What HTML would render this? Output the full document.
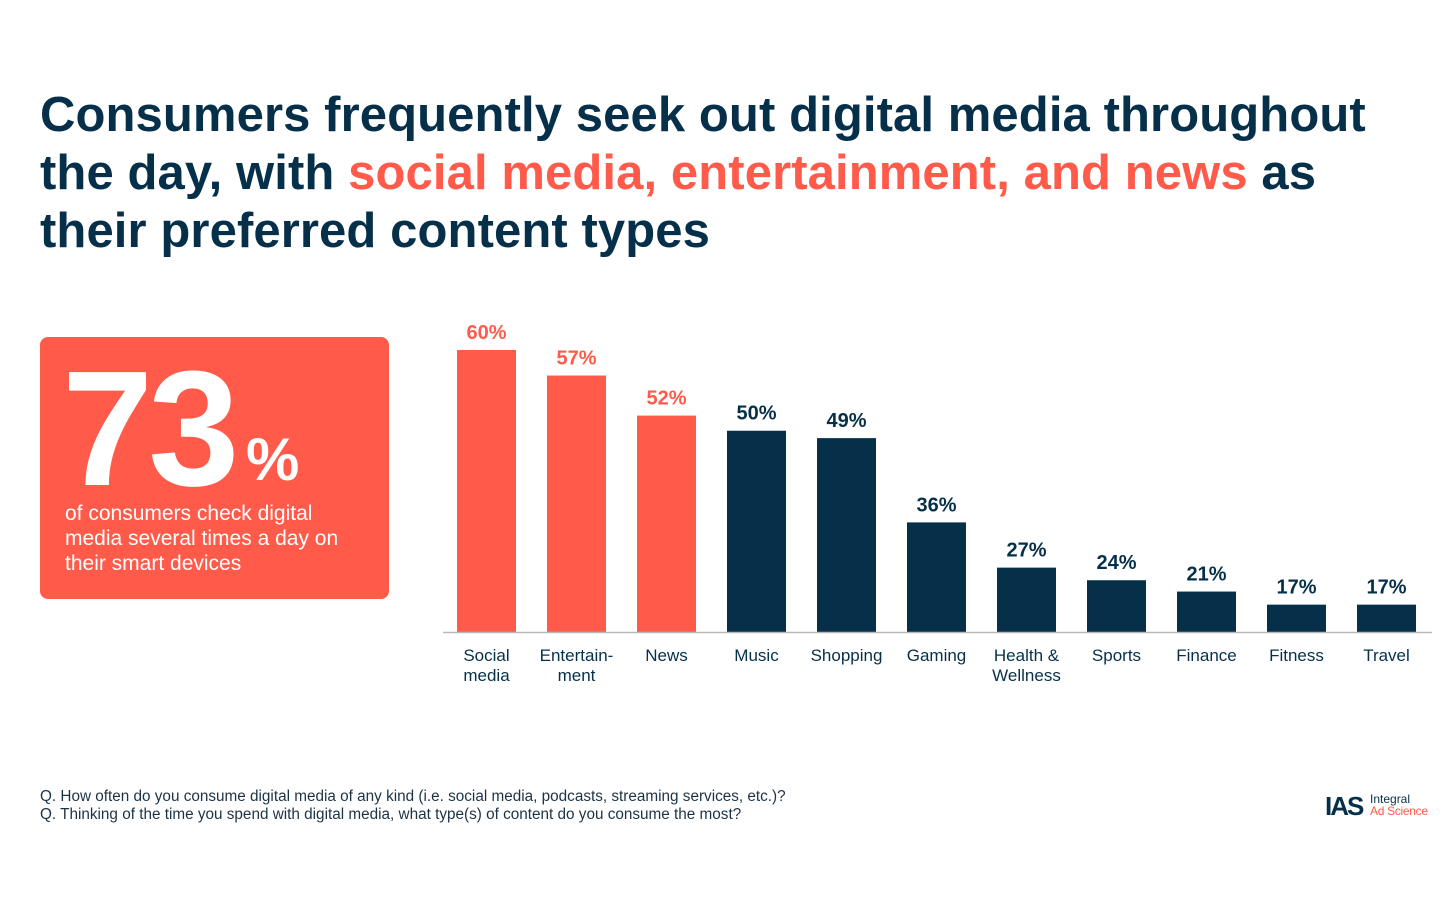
<!DOCTYPE html>
<html><head><meta charset="utf-8"><style>
body{margin:0;width:1454px;height:906px;background:#fff;font-family:"Liberation Sans",sans-serif;position:relative;overflow:hidden}
.title{position:absolute;left:40px;top:86px;font-size:49px;font-weight:bold;line-height:58px;color:#06304a;letter-spacing:0.1px;margin:0}
.title span{color:#ff5a4a}
.card{position:absolute;left:40px;top:337px;width:349px;height:262px;background:#ff5a4a;border-radius:8px;color:#fff}
.big{position:absolute;left:22px;top:12px;font-size:164px;font-weight:bold;letter-spacing:-5px;line-height:160px}
.pct{position:absolute;left:206px;top:88px;font-size:60px;font-weight:bold}
.desc{position:absolute;left:25px;top:164px;font-size:21px;line-height:25px}
.foot{position:absolute;left:40px;top:788px;font-size:15.3px;line-height:18px;color:#1d3345}
</style></head><body>
<h1 class="title">Consumers frequently seek out digital media throughout<br>the day, with <span>social media, entertainment, and news</span> as<br>their preferred content types</h1>
<div class="card">
<div class="big">73</div>
<div class="pct">%</div>
<div class="desc">of consumers check digital<br>media several times a day on<br>their smart devices</div>
</div>
<svg id="chart" width="1454" height="906" style="position:absolute;left:0;top:0"></svg>
<div class="foot">Q. How often do you consume digital media of any kind (i.e. social media, podcasts, streaming services, etc.)?<br>Q. Thinking of the time you spend with digital media, what type(s) of content do you consume the most?</div>
<div style="position:absolute;left:1325px;top:792px;width:110px;height:30px">
<div style="position:absolute;left:0;top:0;font-size:26px;font-weight:bold;color:#06304a;letter-spacing:-2px;line-height:28px">IAS</div>
<div style="position:absolute;left:45px;top:1px;font-size:12px;color:#06304a;line-height:13px">Integral</div>
<div style="position:absolute;left:45px;top:13px;font-size:12px;color:#ff5a4a;line-height:13px;letter-spacing:-0.3px">Ad Science</div>
</div>
<script>
const categories=[["Social","media"],["Entertain-","ment"],["News"],["Music"],["Shopping"],["Gaming"],["Health &","Wellness"],["Sports"],["Finance"],["Fitness"],["Travel"]];
const values=[60,57,52,50,49,36,27,24,21,17,17];
const highlighted=[true,true,true,false,false,false,false,false,false,false,false];
const svg=document.getElementById('chart');
const NS='http://www.w3.org/2000/svg';
const baseY=632,x0=441,step=90,bw=59;
function xScale(i){return x0+step*i+16;}
function hScale(v){return 282*Math.pow(v/60,1.85);}
function mk(t,a){const e=document.createElementNS(NS,t);for(const k in a)e.setAttribute(k,a[k]);svg.appendChild(e);return e;}
values.forEach((v,i)=>{
  const col=highlighted[i]?'#ff5a4a':'#06304a';
  const h=hScale(v),x=xScale(i);
  const r=mk('rect',{x:x,y:baseY-h,width:bw,height:h,fill:col});
  
  
  const t=mk('text',{x:x+bw/2,y:baseY-h-11,'text-anchor':'middle','font-size':'20','font-weight':'bold',fill:col,'font-family':'Liberation Sans'});
  t.textContent=v+'%';
  
  
  categories[i].forEach((ln,j)=>{
    const c=mk('text',{x:x+bw/2,y:661+j*20,'text-anchor':'middle','font-size':'17',fill:'#06304a','font-family':'Liberation Sans'});
    c.textContent=ln;
    
    
  });
});
const ax=mk('line',{x1:443,x2:1432,y1:baseY+0.5,y2:baseY+0.5,stroke:'#b8b8b8','stroke-width':1.5});


</script>
</body></html>
